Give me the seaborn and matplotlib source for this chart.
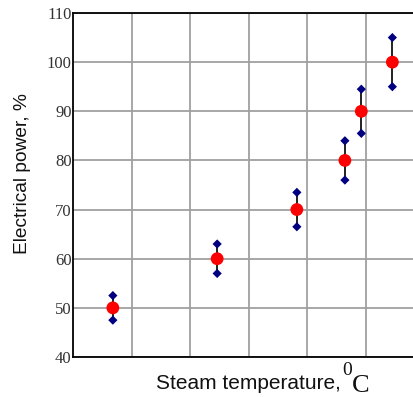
import matplotlib
matplotlib.use("Agg")
import matplotlib.pyplot as plt
import seaborn as sns
import pandas as pd

# data
x_pos = [0.68, 2.46, 3.82, 4.64, 4.92, 5.45]
power = [50, 60, 70, 80, 90, 100]
lower = [47.5, 57, 66.5, 76, 85.5, 95]
upper = [52.5, 63, 73.5, 84, 94.5, 105]
y_ticks = [40, 50, 60, 70, 80, 90, 100, 110]

df = pd.DataFrame({"x": x_pos, "p": power, "lo": lower, "hi": upper})
caps = pd.DataFrame({"x": x_pos + x_pos, "y": lower + upper})

sns.set_style("white")
fig = plt.figure(figsize=(4.14, 3.97), dpi=100)
ax = fig.add_axes([73 / 414, 40 / 397, 341 / 414, 344 / 397])

ax.set_xlim(0, 341 / 58.6)
ax.set_ylim(40, 110)
ax.set_xticks([1, 2, 3, 4, 5])
ax.set_xticklabels([])
ax.set_yticks(y_ticks)
ax.set_yticklabels([str(v) for v in y_ticks], family="Liberation Serif",
                   fontsize=12, color="#333333")
ax.tick_params(axis="both", length=0, pad=1)
ax.grid(True, color="#a0a0a0", linewidth=1.3)
ax.set_axisbelow(True)
for s in ["left", "top", "bottom"]:
    ax.spines[s].set_visible(True)
    ax.spines[s].set_color("black")
    ax.spines[s].set_linewidth(1.3)
ax.spines["right"].set_visible(False)

ax.vlines(df["x"], df["lo"], df["hi"], color="#222222", linewidth=1.4, zorder=3)
sns.scatterplot(data=caps, x="x", y="y", ax=ax, marker="D", s=22,
                color="#000080", edgecolor="none", zorder=4, clip_on=False)
sns.scatterplot(data=df, x="x", y="p", ax=ax, marker="o", s=85,
                color="#ff0000", edgecolor="none", zorder=5, clip_on=False)

ax.set_xlabel("")
ax.set_ylabel("")
fig.text(23 / 414, 1 - 173.5 / 397, "Electrical power, %", family="Liberation Sans",
         fontsize=13.8, color="#111111", rotation=90, ha="center", va="center")

fig.text(156 / 414, 1 - 389 / 397, "Steam temperature,", family="Liberation Sans",
         fontsize=15, color="#111111", ha="left", va="baseline")
fig.text(342 / 414, 1 - 375 / 397, "0", family="Liberation Serif",
         fontsize=14, color="#111111", ha="left", va="baseline")
fig.text(352 / 414, 1 - 392 / 397, "C", family="Liberation Serif",
         fontsize=19, color="#111111", ha="left", va="baseline")

fig.savefig("out.png", dpi=100)
